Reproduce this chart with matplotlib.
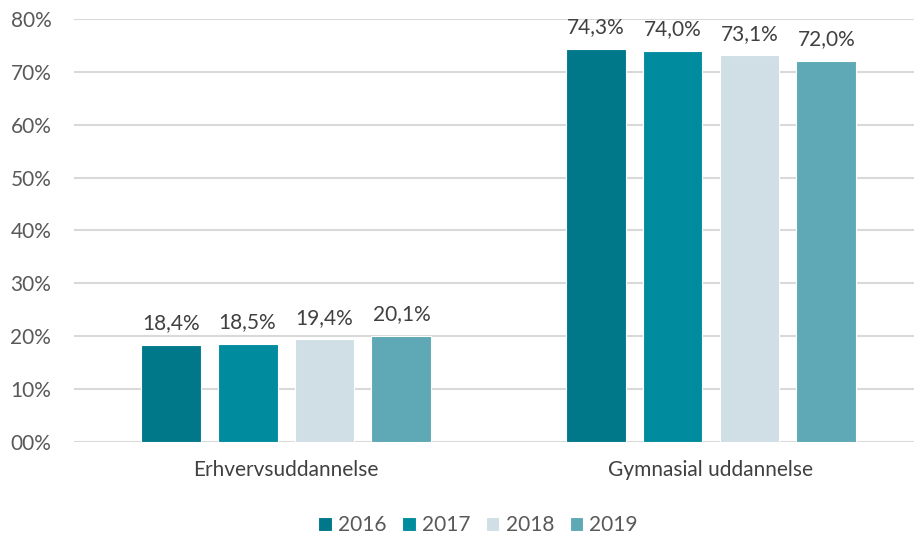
import matplotlib.pyplot as plt
import numpy as np

categories = ["Erhvervsuddannelse", "Gymnasial uddannelse"]
years = ["2016", "2017", "2018", "2019"]
values = {
    "2016": [18.4, 74.3],
    "2017": [18.5, 74.0],
    "2018": [19.4, 73.1],
    "2019": [20.1, 72.0],
}
colors = ["#00788A", "#008C9E", "#CFDFE5", "#5FA8B5"]

plt.rcParams['font.family'] = ['Lato', 'DejaVu Sans']

fig = plt.figure(figsize=(9.14, 5.39), dpi=100)
ax = fig.add_axes([73.5 / 914, 0.18, 850 / 914, 0.785])

x = np.arange(len(categories))
width = 0.141
pitch = 0.181
for i, (yr, c) in enumerate(zip(years, colors)):
    pos = x + (i - 1.5) * pitch
    bars = ax.bar(pos, values[yr], width, color=c, edgecolor='white', linewidth=0.8,
                  label=yr, zorder=3)
    for b, v in zip(bars, values[yr]):
        ax.text(b.get_x() + b.get_width() / 2, v + 2.2, f"{v:.1f}%".replace('.', ','),
                ha='center', va='bottom', fontsize=15, color='#404040')

ax.set_xlim(-0.5, 1.5)
ax.set_ylim(0, 80)
ax.set_yticks(range(0, 81, 10))
ax.set_yticklabels([f"{v:02d}%" for v in range(0, 81, 10)], fontsize=15, color='#595959')
ax.set_xticks(x)
ax.set_xticklabels(categories, fontsize=15, color='#404040')
ax.tick_params(axis='both', length=0)
ax.tick_params(axis='y', pad=16)
ax.tick_params(axis='x', pad=13)
ax.grid(axis='y', color='#D9D9D9', linewidth=1.5, zorder=0)
ax.set_axisbelow(True)
for s in ax.spines.values():
    s.set_visible(False)

fig.legend(loc='center', bbox_to_anchor=(478 / 914, 1 - 525 / 539), ncol=4, frameon=False,
           fontsize=15, handlelength=0.65, handleheight=0.65, handletextpad=0.3,
           columnspacing=0.75, labelcolor='#595959')

fig.savefig("out.png", dpi=100)
